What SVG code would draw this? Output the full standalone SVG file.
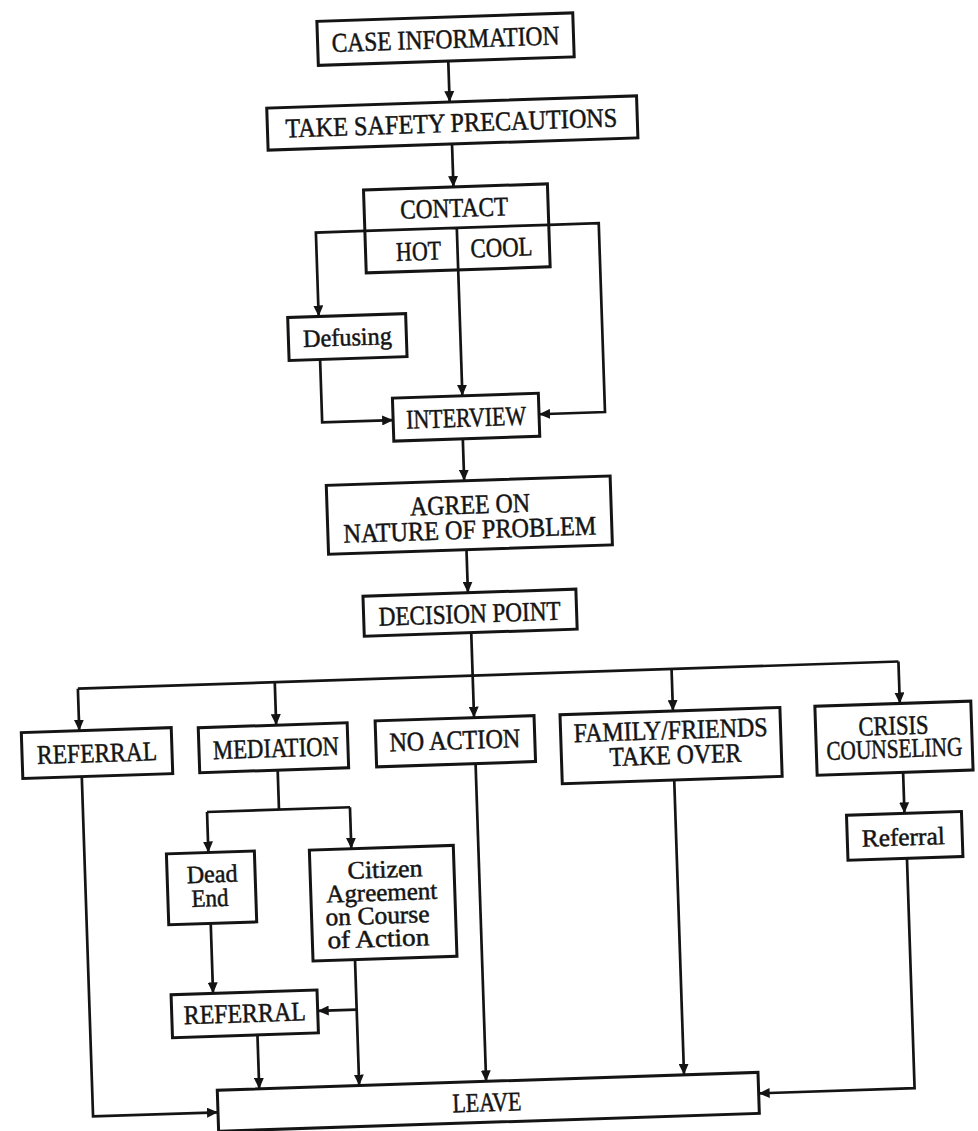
<svg xmlns="http://www.w3.org/2000/svg" width="978" height="1131" viewBox="0 0 978 1131">
<defs>
<style>
.box{fill:#fff;stroke:#141414;stroke-width:3}
.ln{fill:none;stroke:#141414;stroke-width:2.7}
.t{font-family:"Liberation Serif","Times New Roman",serif;font-size:27px;fill:#141414;stroke:#141414;stroke-width:0.5;text-anchor:middle}
.m{font-family:"Liberation Serif","Times New Roman",serif;font-size:25px;fill:#141414;stroke:#141414;stroke-width:0.5;text-anchor:middle}
</style>
<marker id="ah" markerUnits="userSpaceOnUse" markerWidth="11" markerHeight="10" refX="11" refY="5" orient="auto">
<path d="M0,0 L11,5 L0,10 z" fill="#141414"/>
</marker>
</defs>
<rect x="0" y="0" width="978" height="1131" fill="#fff"/>
<g transform="rotate(-1.9 489 565)">
<g id="connectors">
<path class="ln" d="M465,60 V101" marker-end="url(#ah)"/>
<path class="ln" d="M466,143 V186" marker-end="url(#ah)"/>
<path class="ln" d="M376,227 H327 V311" marker-end="url(#ah)"/>
<path class="ln" d="M560,227 H610 V416 H544" marker-end="url(#ah)"/>
<path class="ln" d="M468,269 V395" marker-end="url(#ah)"/>
<path class="ln" d="M327,354 V417 H398" marker-end="url(#ah)"/>
<path class="ln" d="M467,438 V480" marker-end="url(#ah)"/>
<path class="ln" d="M467,549 V592" marker-end="url(#ah)"/>
<path class="ln" d="M469,632 V717" marker-end="url(#ah)"/>
<path class="ln" d="M74,675 H895"/>
<path class="ln" d="M74,675 V717" marker-end="url(#ah)"/>
<path class="ln" d="M271,675 V718" marker-end="url(#ah)"/>
<path class="ln" d="M668,675 V717" marker-end="url(#ah)"/>
<path class="ln" d="M895,675 V717" marker-end="url(#ah)"/>
<path class="ln" d="M75,763 V1103 H200" marker-end="url(#ah)"/>
<path class="ln" d="M271,763 V802.5"/>
<path class="ln" d="M199,802.5 H342"/>
<path class="ln" d="M199,802.5 V843" marker-end="url(#ah)"/>
<path class="ln" d="M342,802.5 V844" marker-end="url(#ah)"/>
<path class="ln" d="M199,914 V984" marker-end="url(#ah)"/>
<path class="ln" d="M342,955 V1081" marker-end="url(#ah)"/>
<path class="ln" d="M342,1005 H303" marker-end="url(#ah)"/>
<path class="ln" d="M242,1027 V1081" marker-end="url(#ah)"/>
<path class="ln" d="M469,763 V1081" marker-end="url(#ah)"/>
<path class="ln" d="M667,786 V1081" marker-end="url(#ah)"/>
<path class="ln" d="M896,786 V827" marker-end="url(#ah)"/>
<path class="ln" d="M897,872 V1102 H741" marker-end="url(#ah)"/>
</g>
<g id="case-information">
<rect class="box" x="335" y="16" width="256" height="44"/>
<text class="t" x="463" y="47" textLength="228" lengthAdjust="spacingAndGlyphs">CASE INFORMATION</text>
</g>
<g id="take-safety">
<rect class="box" x="282" y="101" width="370" height="42"/>
<text class="t" x="466" y="131" textLength="332" lengthAdjust="spacingAndGlyphs">TAKE SAFETY PRECAUTIONS</text>
</g>
<g id="contact">
<rect class="box" x="376" y="186" width="184" height="83"/>
<path class="ln" d="M376,227 H560 M468,227 V269"/>
<text class="t" x="466" y="216" textLength="108" lengthAdjust="spacingAndGlyphs">CONTACT</text>
<text class="t" x="429" y="258" textLength="45" lengthAdjust="spacingAndGlyphs">HOT</text>
<text class="t" x="512" y="257" textLength="62" lengthAdjust="spacingAndGlyphs">COOL</text>
</g>
<g id="defusing">
<rect class="box" x="296" y="311" width="118" height="43"/>
<text class="m" x="355" y="341" textLength="89" lengthAdjust="spacingAndGlyphs">Defusing</text>
</g>
<g id="interview">
<rect class="box" x="398" y="395" width="146" height="43"/>
<text class="t" x="471" y="426" textLength="120" lengthAdjust="spacingAndGlyphs">INTERVIEW</text>
</g>
<g id="agree">
<rect class="box" x="329" y="480" width="284" height="69"/>
<text class="t" x="472" y="513" textLength="120" lengthAdjust="spacingAndGlyphs">AGREE ON</text>
<text class="t" x="471" y="538" textLength="253" lengthAdjust="spacingAndGlyphs">NATURE OF PROBLEM</text>
</g>
<g id="decision-point">
<rect class="box" x="362" y="592" width="213" height="40"/>
<text class="t" x="468" y="622" textLength="182" lengthAdjust="spacingAndGlyphs">DECISION POINT</text>
</g>
<g id="referral-1">
<rect class="box" x="16" y="717" width="150" height="46"/>
<text class="t" x="91" y="749" textLength="120" lengthAdjust="spacingAndGlyphs">REFERRAL</text>
</g>
<g id="mediation">
<rect class="box" x="193" y="718" width="149" height="45"/>
<text class="t" x="270" y="750" textLength="126" lengthAdjust="spacingAndGlyphs">MEDIATION</text>
</g>
<g id="no-action">
<rect class="box" x="370" y="717" width="159" height="46"/>
<text class="t" x="449" y="748" textLength="131" lengthAdjust="spacingAndGlyphs">NO ACTION</text>
</g>
<g id="family-friends">
<rect class="box" x="555" y="717" width="220" height="69"/>
<text class="t" x="665" y="745" textLength="194" lengthAdjust="spacingAndGlyphs">FAMILY/FRIENDS</text>
<text class="t" x="669" y="770" textLength="132" lengthAdjust="spacingAndGlyphs">TAKE OVER</text>
</g>
<g id="crisis-counseling">
<rect class="box" x="810" y="717" width="156" height="69"/>
<text class="t" x="888" y="748" textLength="70" lengthAdjust="spacingAndGlyphs">CRISIS</text>
<text class="t" x="888" y="771" font-size="21" textLength="136" lengthAdjust="spacingAndGlyphs">COUNSELING</text>
</g>
<g id="referral-crisis">
<rect class="box" x="838" y="827" width="115" height="45"/>
<text class="m" x="894" y="859" textLength="83" lengthAdjust="spacingAndGlyphs">Referral</text>
</g>
<g id="dead-end">
<rect class="box" x="157" y="843" width="88" height="71"/>
<text class="m" x="202" y="873" textLength="51" lengthAdjust="spacingAndGlyphs">Dead</text>
<text class="m" x="199" y="897" textLength="37" lengthAdjust="spacingAndGlyphs">End</text>
</g>
<g id="citizen-agreement">
<rect class="box" x="300" y="844" width="144" height="111"/>
<text class="m" x="375" y="874" textLength="75" lengthAdjust="spacingAndGlyphs">Citizen</text>
<text class="m" x="371" y="897" textLength="111" lengthAdjust="spacingAndGlyphs">Agreement</text>
<text class="m" x="366" y="920" textLength="104" lengthAdjust="spacingAndGlyphs">on Course</text>
<text class="m" x="366" y="943" textLength="102" lengthAdjust="spacingAndGlyphs">of Action</text>
</g>
<g id="referral-2">
<rect class="box" x="157" y="984" width="146" height="43"/>
<text class="t" x="230" y="1014" textLength="122" lengthAdjust="spacingAndGlyphs">REFERRAL</text>
</g>
<g id="leave">
<rect class="box" x="200" y="1081" width="541" height="41"/>
<text class="t" x="469" y="1111" textLength="69" lengthAdjust="spacingAndGlyphs">LEAVE</text>
</g>
</g>
</svg>
